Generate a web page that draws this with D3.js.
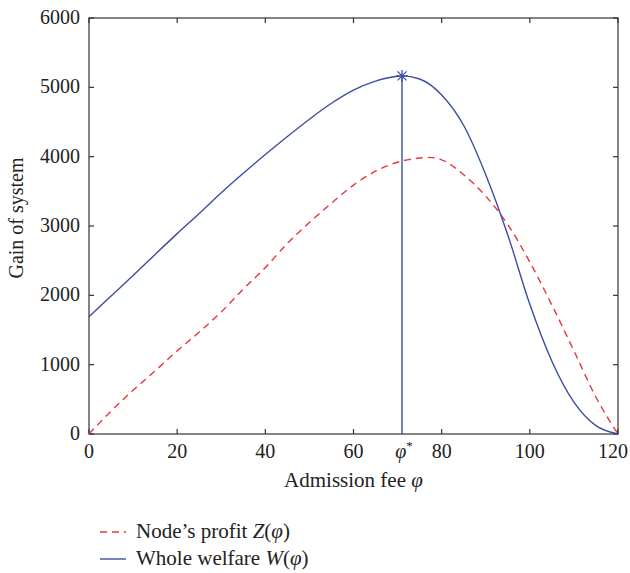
<!DOCTYPE html>
<html>
<head>
<meta charset="utf-8">
<script src="https://cdn.jsdelivr.net/npm/d3@7"></script>
<style>
  body { margin: 0; background: #fff; }
  text { font-family: "Liberation Serif", "DejaVu Serif", serif; fill: #222; }
</style>
</head>
<body>
<div id="chart"></div>
<script>
// values
const fee = [0, 5, 10, 15, 20, 25, 30, 35, 40, 45, 50, 55, 60, 65, 70, 71, 75, 80, 85, 90, 95, 100, 105, 110, 115, 120];
const welfare = [1690, 1990, 2285, 2590, 2890, 3180, 3480, 3760, 4030, 4290, 4540, 4770, 4960, 5090, 5160, 5165, 5120, 4890, 4450, 3740, 2870, 1870, 1050, 460, 120, 0];
const profitFee = [0, 5, 10, 15, 20, 25, 30, 35, 40, 45, 50, 55, 60, 65, 70, 75, 77, 80, 85, 90, 95, 100, 105, 110, 115, 120];
const profit = [0, 330, 630, 910, 1200, 1470, 1760, 2090, 2400, 2750, 3050, 3330, 3590, 3790, 3920, 3980, 3990, 3955, 3740, 3430, 3020, 2480, 1860, 1200, 530, 0];
const xTicks = [0, 20, 40, 60, 80, 100, 120];
const yTicks = [0, 1000, 2000, 3000, 4000, 5000, 6000];
const phiStar = 71;
const peakW = 5165;

const width = 630, height = 573;
const margin = { top: 18, right: 12, bottom: 139, left: 89 };

const svg = d3.select("#chart").append("svg")
    .attr("width", width)
    .attr("height", height);

const x = d3.scaleLinear().domain([0, 120]).range([margin.left, width - margin.right]);
const y = d3.scaleLinear().domain([0, 6000]).range([height - margin.bottom, margin.top]);

const axisColor = "#333";
const blue = "#3b4ea3";
const red = "#e8343a";
const fs = 20;      // tick labels
const fsTitle = 21; // axis title and legend

// box
svg.append("rect")
    .attr("x", x(0)).attr("y", y(6000))
    .attr("width", x(120) - x(0)).attr("height", y(0) - y(6000))
    .attr("fill", "none").attr("stroke", axisColor).attr("stroke-width", 1.2);

// ticks (inward, all four sides)
const tl = 5;
const ticks = svg.append("g").attr("stroke", axisColor).attr("stroke-width", 1.2);
xTicks.forEach(t => {
    ticks.append("line").attr("x1", x(t)).attr("x2", x(t)).attr("y1", y(0)).attr("y2", y(0) - tl);
    ticks.append("line").attr("x1", x(t)).attr("x2", x(t)).attr("y1", y(6000)).attr("y2", y(6000) + tl);
});
yTicks.forEach(t => {
    ticks.append("line").attr("x1", x(0)).attr("x2", x(0) + tl).attr("y1", y(t)).attr("y2", y(t));
    ticks.append("line").attr("x1", x(120)).attr("x2", x(120) - tl).attr("y1", y(t)).attr("y2", y(t));
});

// tick labels
svg.append("g").selectAll("text").data(xTicks).join("text")
    .attr("x", d => x(d)).attr("y", y(0) + 24)
    .attr("text-anchor", "middle").style("font-size", fs + "px")
    .text(d => d)
    .each(function () {
        // keep the last label inside the window
        const w = this.getComputedTextLength();
        const cx = +this.getAttribute("x");
        if (cx + w / 2 > width - 2) this.setAttribute("x", width - 2 - w / 2);
    });
svg.append("g").selectAll("text").data(yTicks).join("text")
    .attr("x", x(0) - 9).attr("y", d => y(d) + 6)
    .attr("text-anchor", "end").style("font-size", fs + "px")
    .text(d => d);

// phi* label on the x axis
const phiLab = svg.append("text")
    .attr("x", x(phiStar) + 2).attr("y", y(0) + 24)
    .attr("text-anchor", "middle").style("font-size", fs + "px");
phiLab.append("tspan").style("font-style", "italic").text("φ");
phiLab.append("tspan").attr("dy", -8).style("font-size", "13px").text("*");

// axis titles
const xl = svg.append("text")
    .attr("x", (x(0) + x(120)) / 2).attr("y", y(0) + 53)
    .attr("text-anchor", "middle").style("font-size", fsTitle + "px");
xl.append("tspan").text("Admission fee ");
xl.append("tspan").style("font-style", "italic").text("φ");

svg.append("text")
    .attr("transform", `translate(23, ${y(3000) - 8}) rotate(-90)`)
    .attr("text-anchor", "middle").style("font-size", fs + "px")
    .text("Gain of system");

// curves
const lineW = d3.line().x((d, i) => x(fee[i])).y(d => y(d)).curve(d3.curveMonotoneX);
const lineZ = d3.line().x((d, i) => x(profitFee[i])).y(d => y(d)).curve(d3.curveMonotoneX);

svg.append("path").datum(profit)
    .attr("d", lineZ).attr("fill", "none")
    .attr("stroke", red).attr("stroke-width", 1.4)
    .attr("stroke-dasharray", "7,5");

svg.append("path").datum(welfare)
    .attr("d", lineW).attr("fill", "none")
    .attr("stroke", blue).attr("stroke-width", 1.4);

// optimum marker and drop line
svg.append("line")
    .attr("x1", x(phiStar)).attr("x2", x(phiStar))
    .attr("y1", y(peakW)).attr("y2", y(0))
    .attr("stroke", blue).attr("stroke-width", 1.4);

const star = svg.append("g")
    .attr("transform", `translate(${x(phiStar)},${y(peakW)})`)
    .attr("stroke", blue).attr("stroke-width", 1.3);
[[0, -6, 0, 6], [-6, 0, 6, 0], [-4.5, -4.5, 4.5, 4.5], [-4.5, 4.5, 4.5, -4.5]].forEach(s => {
    star.append("line").attr("x1", s[0]).attr("y1", s[1]).attr("x2", s[2]).attr("y2", s[3]);
});

// legend
const legend = [
    { label: ["Node’s profit ", "Z", "(", "φ", ")"], color: red, dash: "7,5", y: 532 },
    { label: ["Whole welfare ", "W", "(", "φ", ")"], color: blue, dash: null, y: 559 }
];
legend.forEach(l => {
    svg.append("line")
        .attr("x1", 100).attr("x2", 126).attr("y1", l.y).attr("y2", l.y)
        .attr("stroke", l.color).attr("stroke-width", 1.4)
        .attr("stroke-dasharray", l.dash);
    const t = svg.append("text")
        .attr("x", 136).attr("y", l.y + 6).style("font-size", fsTitle + "px");
    l.label.forEach((s, i) => {
        t.append("tspan").style("font-style", (i === 1 || i === 3) ? "italic" : "normal").text(s);
    });
});
</script>
</body>
</html>
